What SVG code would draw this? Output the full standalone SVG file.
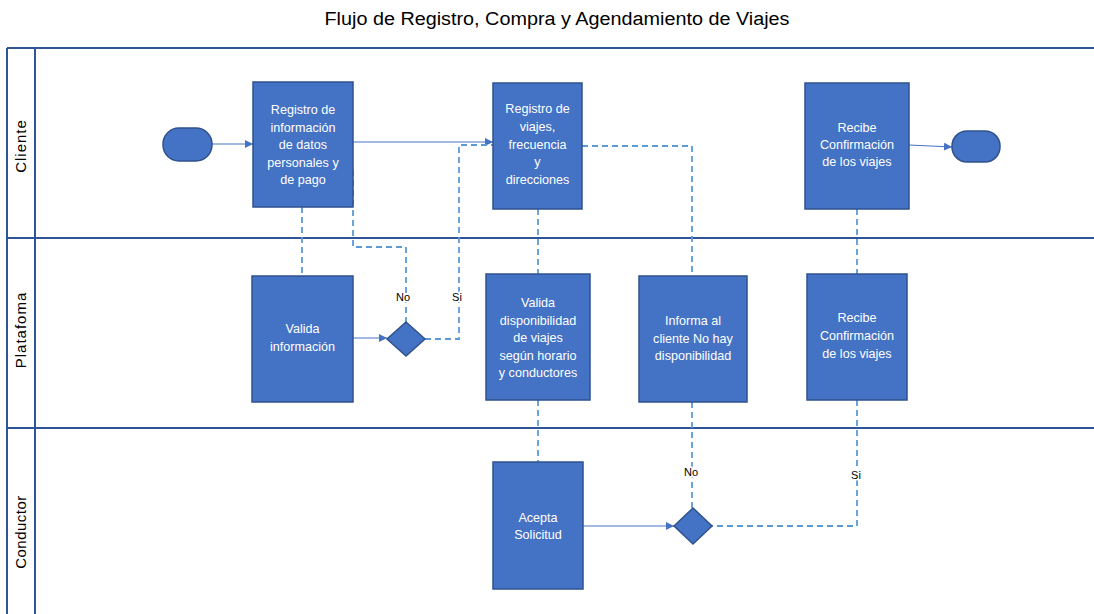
<svg xmlns="http://www.w3.org/2000/svg" width="1094" height="614" viewBox="0 0 1094 614">
<defs>
<style>
.lane{stroke:#2F5597;stroke-width:2;fill:none}
.box{fill:#4472C4;stroke:#2F528F;stroke-width:1.5}
.bt{font-family:"Liberation Sans",Arial,sans-serif;font-size:12.6px;fill:#FFFFFF;text-anchor:middle}
.lt{font-family:"Liberation Sans",Arial,sans-serif;font-size:15px;fill:#000;text-anchor:middle}
.lbl{font-family:"Liberation Sans",Arial,sans-serif;font-size:11px;fill:#000;text-anchor:middle;stroke:#fff;stroke-width:3;paint-order:stroke}
.solid{stroke:#4472C4;stroke-width:1;fill:none}
.dash{stroke:#5B9BD5;stroke-width:1.8;fill:none;stroke-dasharray:6,4}
</style>
<marker id="ah" viewBox="0 0 10 10" refX="10" refY="5" markerWidth="8" markerHeight="8" markerUnits="userSpaceOnUse" orient="auto">
<path d="M0,0 L10,5 L0,10 z" fill="#4472C4"/>
</marker>
</defs>
<rect width="1094" height="614" fill="#fff"/>
<text x="557" y="25" font-family="Liberation Sans, Arial, sans-serif" font-size="18" text-anchor="middle" fill="#000" textLength="465" lengthAdjust="spacingAndGlyphs">Flujo de Registro, Compra y Agendamiento de Viajes</text>

<g id="lanes">
<line class="lane" x1="7" y1="48" x2="1094" y2="48"/>
<line class="lane" x1="7" y1="48" x2="7" y2="614"/>
<line class="lane" x1="35" y1="48" x2="35" y2="614"/>
<line class="lane" x1="7" y1="238" x2="1094" y2="238"/>
<line class="lane" x1="7" y1="428" x2="1094" y2="428"/>
<text class="lt" transform="translate(26,146) rotate(-90)" letter-spacing="1">Cliente</text>
<text class="lt" transform="translate(26,330) rotate(-90)" letter-spacing="1">Platafoma</text>
<text class="lt" transform="translate(26,532) rotate(-90)" letter-spacing="0.5">Conductor</text>
</g>

<g id="connectors">
<line class="solid" x1="212" y1="144" x2="253" y2="144" marker-end="url(#ah)"/>
<line class="solid" x1="353" y1="142" x2="493" y2="142" marker-end="url(#ah)"/>
<line class="solid" x1="909" y1="145" x2="952" y2="147" marker-end="url(#ah)"/>
<line class="solid" x1="353" y1="338" x2="387" y2="338" marker-end="url(#ah)"/>
<line class="solid" x1="583" y1="526" x2="674" y2="526" marker-end="url(#ah)"/>
<polyline class="dash" points="302,207 302,276"/>
<polyline class="dash" points="353,170 353,247 406,247 406,322"/>
<polyline class="dash" points="425,339 459,339 459,145 493,145"/>
<polyline class="dash" points="538,209 538,274"/>
<polyline class="dash" points="582,146 692,146 692,276"/>
<polyline class="dash" points="857,209 857,274"/>
<polyline class="dash" points="538,400 538,462"/>
<polyline class="dash" points="692,402 692,508"/>
<polyline class="dash" points="857,400 857,526 712,526"/>
<text class="lbl" x="403" y="301">No</text>
<text class="lbl" x="457" y="301">Si</text>
<text class="lbl" x="691" y="476">No</text>
<text class="lbl" x="856" y="479">Si</text>
</g>

<g id="start"><rect class="box" x="163" y="128" width="49" height="33" rx="16" ry="16"/></g>
<g id="end"><rect class="box" x="952" y="131" width="48" height="31" rx="15" ry="15"/></g>

<g id="registro-info">
<rect class="box" x="253" y="82" width="100" height="125"/>
<text class="bt" x="303" y="114">Registro de</text>
<text class="bt" x="303" y="131.5">información</text>
<text class="bt" x="303" y="149">de datos</text>
<text class="bt" x="303" y="166.5">personales y</text>
<text class="bt" x="303" y="184">de pago</text>
</g>

<g id="registro-viajes">
<rect class="box" x="493" y="83" width="89" height="126"/>
<text class="bt" x="537.5" y="113">Registro de</text>
<text class="bt" x="537.5" y="131">viajes,</text>
<text class="bt" x="537.5" y="148.5">frecuencia</text>
<text class="bt" x="537.5" y="166">y</text>
<text class="bt" x="537.5" y="184">direcciones</text>
</g>

<g id="recibe-cliente">
<rect class="box" x="805" y="83" width="104" height="126"/>
<text class="bt" x="857" y="132">Recibe</text>
<text class="bt" x="857" y="149">Confirmación</text>
<text class="bt" x="857" y="166">de los viajes</text>
</g>

<g id="valida-info">
<rect class="box" x="252" y="276" width="101" height="126"/>
<text class="bt" x="302.5" y="333">Valida</text>
<text class="bt" x="302.5" y="351">información</text>
</g>

<g id="decision-1"><polygon class="box" points="406,322 425,339 406,356 387,339"/></g>

<g id="valida-disp">
<rect class="box" x="486" y="274" width="104" height="126"/>
<text class="bt" x="538" y="307">Valida</text>
<text class="bt" x="538" y="324.5">disponibilidad</text>
<text class="bt" x="538" y="342">de viajes</text>
<text class="bt" x="538" y="359.5">según horario</text>
<text class="bt" x="538" y="377">y conductores</text>
</g>

<g id="informa">
<rect class="box" x="639" y="276" width="108" height="126"/>
<text class="bt" x="693" y="325">Informa al</text>
<text class="bt" x="693" y="343">cliente No hay</text>
<text class="bt" x="693" y="360">disponibilidad</text>
</g>

<g id="recibe-plataforma">
<rect class="box" x="807" y="274" width="100" height="126"/>
<text class="bt" x="857" y="322">Recibe</text>
<text class="bt" x="857" y="340">Confirmación</text>
<text class="bt" x="857" y="358">de los viajes</text>
</g>

<g id="acepta">
<rect class="box" x="493" y="462" width="90" height="127"/>
<text class="bt" x="538" y="522">Acepta</text>
<text class="bt" x="538" y="539">Solicitud</text>
</g>

<g id="decision-2"><polygon class="box" points="693,508 712,526 693,544 674,526"/></g>
</svg>
